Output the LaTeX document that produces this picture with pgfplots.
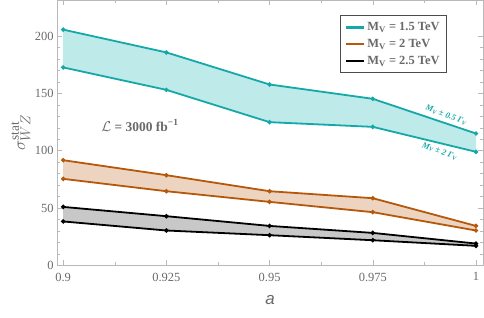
\documentclass[border=0pt]{standalone}
\usepackage{pgfplots}
\pgfplotsset{compat=1.18}
\usepgfplotslibrary{fillbetween}
\usepackage{fontspec}
\setmainfont{Liberation Serif}
\newfontfamily\sansfnt{Liberation Sans}
\definecolor{cyanl}{RGB}{20,168,168}
\definecolor{cyanf}{RGB}{190,234,234}
\definecolor{orl}{RGB}{182,88,10}
\definecolor{orf}{RGB}{236,212,192}
\definecolor{blf}{RGB}{200,200,200}
\definecolor{tickgray}{RGB}{105,105,105}
\definecolor{framegray}{RGB}{185,185,185}
\begin{document}
\begin{tikzpicture}
\begin{axis}[
  at={(0,0)}, anchor=south west,
  scale only axis, width=426bp, height=265bp,
  xmin=0.8985, xmax=1.0017, ymin=0, ymax=231.4,
  xtick={0.9,0.925,0.95,0.975,1}, xticklabels={0.9,0.925,0.95,0.975,1},
  minor x tick num=1,
  ytick={0,50,100,150,200}, minor y tick num=4,
  tick align=inside,
  major tick length=5bp, minor tick length=3bp,
  axis line style={framegray},
  every tick/.style={framegray},
  ticklabel style={font=\fontsize{12.5}{13}\selectfont, text=tickgray},
  xticklabel style={yshift=-4bp},
  /pgf/number format/assume math mode=true,
  xlabel={\sansfnt\itshape a},
  xlabel style={at={(axis description cs:0.5,-0.132)}, anchor=center, font=\fontsize{17}{18}\selectfont, text=tickgray},
  ylabel={$\sigma^{\mathrm{stat}}_{WZ}$},
  ylabel style={at={(axis description cs:-0.085,0.5)}, anchor=center, rotate=0, font=\fontsize{19}{20}\selectfont, text=tickgray},
  legend style={at={(rel axis cs:0.9155,0.943)}, anchor=north east, draw=black!70, line width=0.9pt,
    font=\bfseries\fontsize{12.5}{14}\selectfont, text=tickgray, row sep=3pt, inner xsep=5pt, inner ysep=5pt},
  legend cell align=left,
  legend image code/.code={\draw[#1] (0,0) -- (18bp,0);},
]
\addlegendimage{cyanl, line width=2.2bp}
\addlegendentry{M\textsubscript{V} = 1.5 TeV}
\addlegendimage{orl, line width=2.2bp}
\addlegendentry{M\textsubscript{V} = 2 TeV}
\addlegendimage{black, line width=2.2bp}
\addlegendentry{M\textsubscript{V} = 2.5 TeV}
\addplot[name path=c1, cyanl, line width=1.8bp, mark=*, mark size=1.2bp, forget plot] coordinates {(0.9,205.7) (0.925,185.8) (0.95,157.8) (0.975,145.3) (1,115.0)};
\addplot[name path=c2, cyanl, line width=1.8bp, mark=*, mark size=1.2bp, forget plot] coordinates {(0.9,172.7) (0.925,153.1) (0.95,124.9) (0.975,120.8) (1,99.0)};
\addplot[name path=o1, orl, line width=1.8bp, mark=*, mark size=1.2bp, forget plot] coordinates {(0.9,91.7) (0.925,78.6) (0.95,64.6) (0.975,58.5) (1,34.3)};
\addplot[name path=o2, orl, line width=1.8bp, mark=*, mark size=1.2bp, forget plot] coordinates {(0.9,75.4) (0.925,64.6) (0.95,55.3) (0.975,46.3) (1,30.3)};
\addplot[name path=b1, black, line width=1.8bp, mark=*, mark size=1.2bp, forget plot] coordinates {(0.9,50.9) (0.925,42.8) (0.95,34.3) (0.975,28.2) (1,18.9)};
\addplot[name path=b2, black, line width=1.8bp, mark=*, mark size=1.2bp, forget plot] coordinates {(0.9,38.2) (0.925,30.3) (0.95,26.2) (0.975,21.8) (1,16.9)};
\addplot[cyanf, forget plot] fill between[of=c1 and c2];
\addplot[orf, forget plot] fill between[of=o1 and o2];
\addplot[blf, forget plot] fill between[of=b1 and b2];
\node[font=\bfseries\fontsize{13.5}{15}\selectfont, text=tickgray] at (axis cs:0.9186,122) {$\mathcal{L}$ = 3000 fb\textsuperscript{−1}};
\node[rotate=-20, font=\bfseries\itshape\fontsize{8.5}{9}\selectfont, text=cyanl] at (axis cs:0.9928,131) {M\textsubscript{V} ± 0.5 Γ\textsubscript{V}};
\node[rotate=-20, font=\bfseries\itshape\fontsize{8.5}{9}\selectfont, text=cyanl] at (axis cs:0.9912,99.5) {M\textsubscript{V} ± 2 Γ\textsubscript{V}};
\end{axis}
\path (-57bp,-52bp) rectangle (427bp,265bp);
\end{tikzpicture}
\end{document}
